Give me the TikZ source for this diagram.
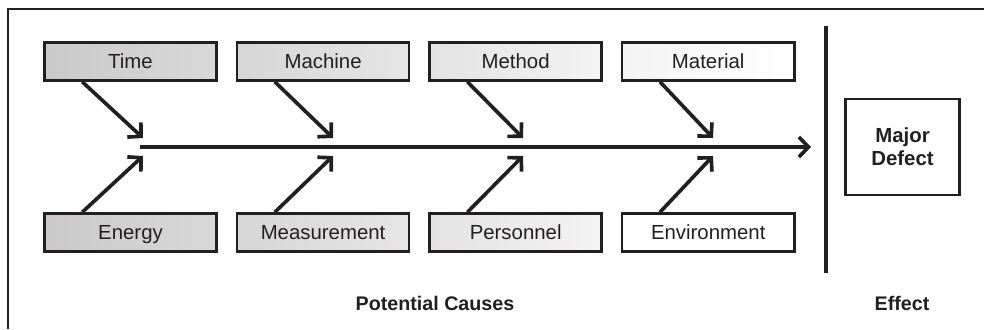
\documentclass[tikz,border=0pt]{standalone}
\usepackage{fontspec}
\setmainfont{Liberation Sans}
\usepackage{xcolor}
\usetikzlibrary{positioning,arrows.meta}

\definecolor{inkdark}{HTML}{231F20}

\begin{document}
\begin{tikzpicture}[x=0.025cm, y=-0.025cm, node distance=0.45cm,
    cause/.style={draw=inkdark, line width=1.8pt, minimum width=4.3cm, minimum height=0.95cm, inner sep=0pt,
        text height=10.6pt, text depth=1.2pt, text=inkdark, font=\fontsize{14.5}{17}\selectfont},
    bone/.style={draw=inkdark, line width=2.6pt, -{Straight Barb[length=2.4mm, width=5mm, line width=2.6pt]}},
    heading/.style={text=inkdark, font=\fontsize{14}{16}\selectfont\bfseries}]
    \useasboundingbox (0,0) rectangle (984,329);
    % frame
    \draw[inkdark, line width=2pt] (8,329) -- (8,9) -- (984,9);
    % top causes
    \node[cause, left color=gray!42, right color=gray!30] (time) at (130.5,61.5) {Time};
    \node[cause, left color=gray!32, right color=gray!20] (machine) [right=of time] {Machine};
    \node[cause, left color=gray!22, right color=gray!9] (method) [right=of machine] {Method};
    \node[cause, left color=gray!9, right color=white] (material) [right=of method] {Material};
    % bottom causes
    \node[cause, left color=gray!42, right color=gray!30] (energy) at (130.5,232.5) {Energy};
    \node[cause, left color=gray!32, right color=gray!20] (measure) [right=of energy] {Measurement};
    \node[cause, left color=gray!22, right color=gray!9] (personnel) [right=of measure] {Personnel};
    \node[cause, fill=white] (environ) [right=of personnel] {Environment};
    % effect
    \node[draw=inkdark, line width=1.6pt, minimum width=2.85cm, minimum height=2.4cm, align=center,
        text=inkdark, font=\fontsize{14.5}{16.5}\selectfont\bfseries] (defect) at (902.5,147) {Major\\Defect};
    % spine
    \coordinate (tail) at (140,147);
    \coordinate (head) at (811,147);
    \draw[bone] (tail) -- (head);
    \coordinate (up1) at (143,138);
    \coordinate (up2) at (333,138);
    \coordinate (up3) at (523,138);
    \coordinate (up4) at (713,138);
    \coordinate (dn1) at (143,156);
    \coordinate (dn2) at (333,156);
    \coordinate (dn3) at (523,156);
    \coordinate (dn4) at (713,156);
    \draw[bone] ([xshift=0.975cm]time.south west) -- (up1);
    \draw[bone] ([xshift=0.975cm]machine.south west) -- (up2);
    \draw[bone] ([xshift=0.975cm]method.south west) -- (up3);
    \draw[bone] ([xshift=0.975cm]material.south west) -- (up4);
    \draw[bone] ([xshift=0.975cm]energy.north west) -- (dn1);
    \draw[bone] ([xshift=0.975cm]measure.north west) -- (dn2);
    \draw[bone] ([xshift=0.975cm]personnel.north west) -- (dn3);
    \draw[bone] ([xshift=0.975cm]environ.north west) -- (dn4);
    % divider
    \coordinate (divtop) at (826,26);
    \coordinate (divbot) at (826,273);
    \draw[inkdark, line width=2.6pt] (divtop) -- (divbot);
    % headings
    \node[heading] (causes) at (435,303) {Potential Causes};
    \node[heading] (effect) at (902,303) {Effect};
\end{tikzpicture}
\end{document}
